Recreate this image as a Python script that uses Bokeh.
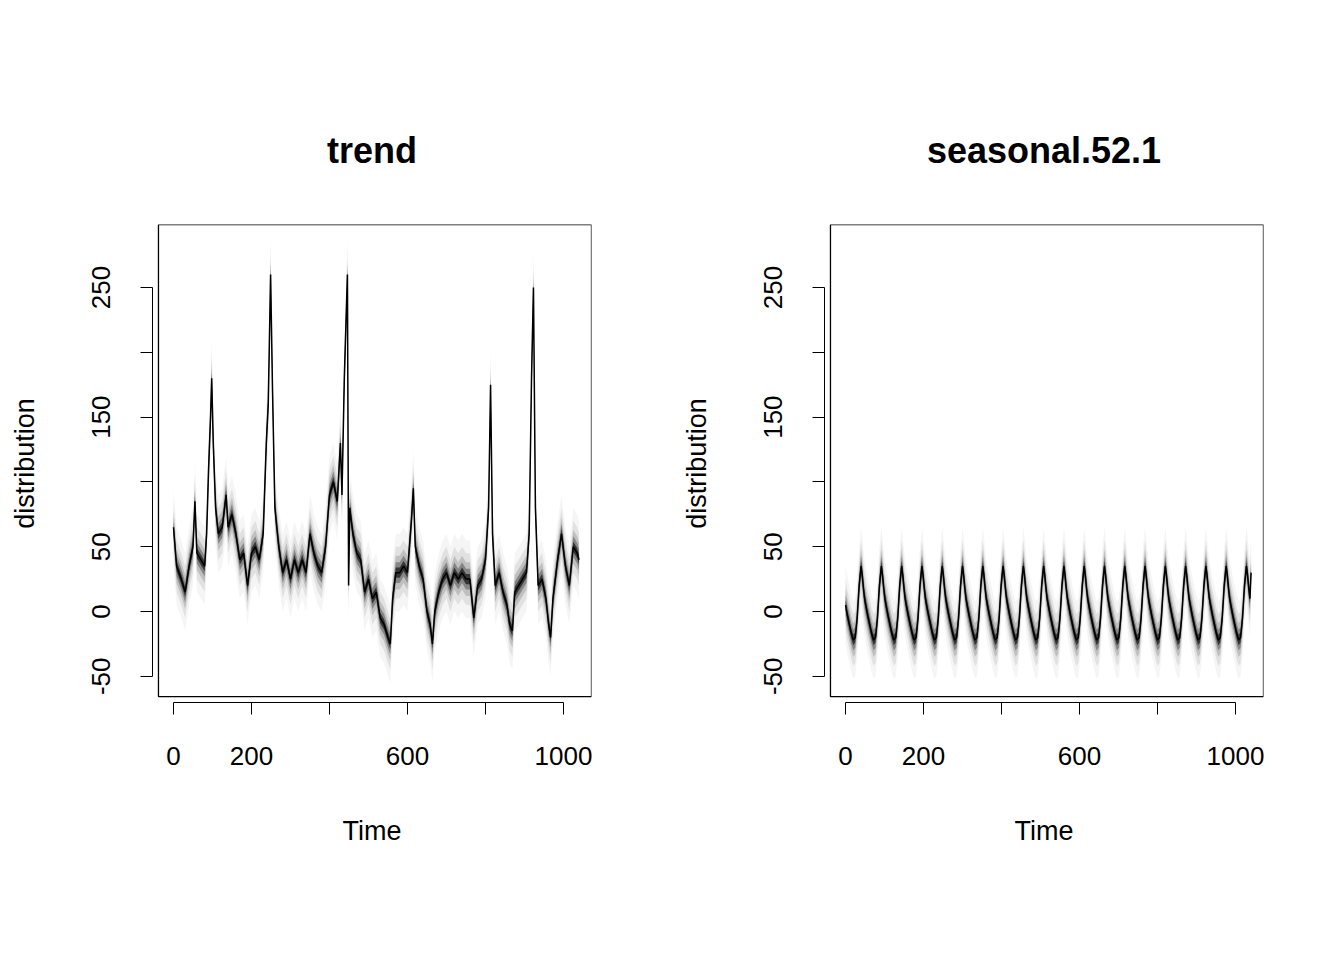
import numpy as np
from bokeh.plotting import figure
from bokeh.layouts import row
from bokeh.models import FixedTicker
from bokeh.embed import file_html
from bokeh.resources import INLINE

# trend: time, median
trend_t = [0,8,20,30,40,50,55,60,70,80,85,90,95,98,102,108,115,125,135,140,150,160,170,180,190,200,210,220,230,238,243,249,254,260,270,280,290,300,310,320,330,340,350,360,370,380,390,400,410,420,428,432,438,446,449,452,460,470,480,490,500,510,520,530,540,550,556,562,570,580,590,600,610,615,620,630,640,650,658,664,670,680,690,700,710,720,730,740,750,760,770,780,790,800,808,813,818,825,835,845,855,862,869,875,885,895,905,912,918,923,928,935,945,955,962,967,973,985,995,1005,1015,1025,1035,1040]
trend_v = [65,35,25,15,35,50,85,45,40,35,60,110,150,180,130,80,60,65,90,65,75,60,40,45,20,45,50,40,60,130,160,260,170,80,50,30,40,25,40,30,40,30,60,45,35,30,50,90,100,85,130,90,180,260,20,80,60,45,40,15,25,10,15,-5,-10,-20,-25,10,30,30,35,30,70,95,50,35,25,0,-10,-25,0,15,25,30,20,30,25,30,25,25,-5,20,25,40,80,175,60,20,30,15,5,-10,-15,15,20,25,30,60,180,250,80,20,25,10,-10,-20,10,40,60,35,20,50,45,40]
# seasonal: one 52-week cycle shape (phase, value), repeated
season_phase = [0,5,10,15,20,25,30,35,40,43,46,49]
season_v = [5,-3,-10,-17,-22,-20,-5,20,35,28,18,10]
n_cycles = 20
band_half = [30, 20, 13, 8, 4]
band_alpha = [0.04, 0.08, 0.15, 0.3, 0.6]

st, sv = [], []
for c in range(n_cycles):
    for ph, v in zip(season_phase, season_v):
        st.append(c * 52 + ph); sv.append(v)
st.append(n_cycles * 52); sv.append(30)

FONT = "Liberation Sans"

def panel(title, t, v):
    t = np.array(t, float); v = np.array(v, float)
    p = figure(width=672, height=944, output_backend="svg", toolbar_location=None,
               x_range=(-53.8, 1071.8), y_range=(-70.2, 298.6),
               frame_width=439, frame_height=478,
               min_border_left=152, min_border_right=81, min_border_top=224,
               title=title)
    p.title.align = "center"
    p.title.text_font = FONT
    p.title.text_font_size = "36px"
    p.title.text_font_style = "bold"
    p.title.text_color = "black"
    p.title.standoff = 108
    p.outline_line_color = None
    p.grid.visible = False
    for h, a in zip(band_half, band_alpha):
        p.varea(x=t, y1=v - h, y2=v + h, fill_color="black", fill_alpha=a)
    p.line(t, v, line_color="black", line_width=1.5)
    p.quad(left=-38.5, right=1071.8, bottom=-65.6, top=298.6, fill_color=None, line_color="black", line_width=1.3)
    p.xaxis.ticker = FixedTicker(ticks=[0, 200, 400, 600, 800, 1000])
    p.xaxis.bounds = (0, 1000)
    p.xaxis.major_label_overrides = {0: "0", 200: "200", 400: "", 600: "600", 800: "", 1000: "1000"}
    p.yaxis.ticker = FixedTicker(ticks=[-50, 0, 50, 100, 150, 200, 250])
    p.yaxis.bounds = (-50, 250)
    p.yaxis.major_label_overrides = {-50: "-50", 0: "0", 50: "50", 100: "", 150: "150", 200: "", 250: "250"}
    p.yaxis.major_label_orientation = "vertical"
    p.xaxis.axis_label = "Time"
    p.yaxis.axis_label = "distribution"
    for ax in (p.xaxis, p.yaxis):
        ax.minor_tick_line_color = None
        ax.major_tick_out = 12
        ax.major_tick_in = 0
        ax.axis_line_color = "black"
        ax.major_tick_line_color = "black"
        ax.major_label_text_font = FONT
        ax.major_label_text_font_size = "26px"
        ax.major_label_text_color = "black"
        ax.axis_label_text_font = FONT
        ax.axis_label_text_font_size = "27px"
        ax.axis_label_text_font_style = "normal"
        ax.axis_label_text_color = "black"
    p.xaxis.major_label_standoff = 32
    p.yaxis.major_label_standoff = 30
    p.xaxis.axis_label_standoff = 48
    p.yaxis.axis_label_standoff = 50
    return p

p1 = panel("trend", trend_t, trend_v)
p2 = panel("seasonal.52.1", st, sv)
layout = row(p1, p2)
open("out.html", "w").write(file_html(layout, INLINE))
